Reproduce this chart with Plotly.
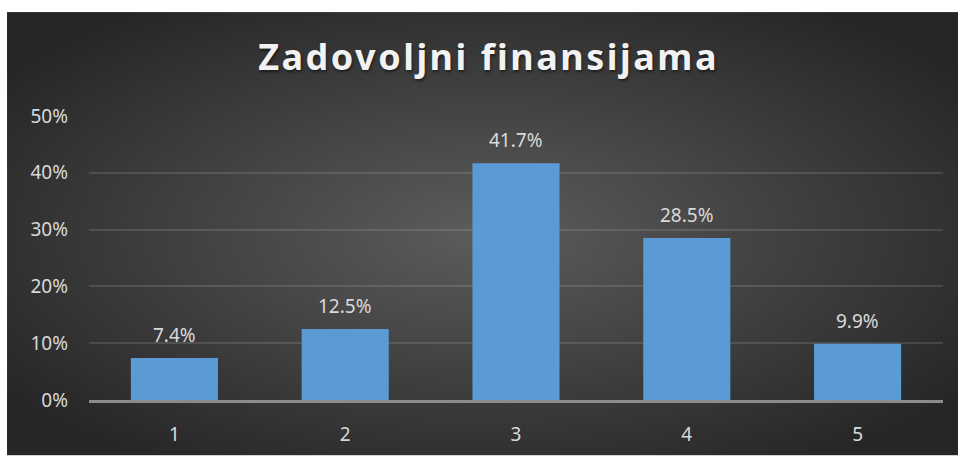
import base64
import plotly.graph_objects as go

categories = ['1', '2', '3', '4', '5']
shares = [7.4, 12.5, 41.7, 28.5, 9.9]
title_text = 'Zadovoljni finansijama'

# radial dark background like the Excel chart style
bg_svg = ('<svg xmlns="http://www.w3.org/2000/svg" width="951" height="448">'
          '<defs><radialGradient id="g" cx="50%" cy="50%" r="62%">'
          '<stop offset="0" stop-color="#5c5c5c"/>'
          '<stop offset="1" stop-color="#262626"/>'
          '</radialGradient></defs>'
          '<rect width="951" height="448" fill="url(#g)"/></svg>')
bg_src = 'data:image/svg+xml;base64,' + base64.b64encode(bg_svg.encode()).decode()

fig = go.Figure(go.Bar(x=categories, y=shares,
                       marker=dict(color='#5b9bd5', line=dict(width=0))))

for i, v in enumerate(shares):
    fig.add_annotation(x=i, y=v, text=f'{v:.1f}%', showarrow=False,
                       yanchor='bottom', yshift=8,
                       font=dict(size=19, color='#d9d9d9'))

fig.update_layout(
    width=958, height=459,
    margin=dict(l=89, r=15, t=116, b=56),
    paper_bgcolor='white',
    plot_bgcolor='rgba(0,0,0,0)',
    font=dict(family='Noto Sans', color='#d9d9d9', size=19),
    bargap=0.49,
    showlegend=False,
    title=dict(text=f'<span style="letter-spacing:2.5px">{title_text}</span>',
               x=0.51, xanchor='center', y=0.874, yanchor='middle',
               font=dict(size=36, color='#f2f2f2', weight='bold',
                         shadow='1px 2px 3px rgba(0,0,0,0.5)')),
    images=[dict(source=bg_src, xref='paper', yref='paper',
                 x=-0.0960, y=1.3659, sizex=1.1136, sizey=1.561,
                 xanchor='left', yanchor='top', sizing='stretch',
                 layer='below')],
)
fig.update_xaxes(showgrid=False, showline=True, linecolor='#8c8c8c', linewidth=2.5,
                 ticks='', ticklabelstandoff=15, tickfont=dict(size=19, color='#d9d9d9'))
fig.update_yaxes(range=[0, 50], dtick=10, ticksuffix='%', showgrid=True,
                 gridcolor='rgba(255,255,255,0.12)', gridwidth=1.5, zeroline=False,
                 ticks='', ticklabelstandoff=20, tickfont=dict(size=19, color='#d9d9d9'))

fig.write_html('out.html', config={'displayModeBar': False},
               post_script="document.body.style.margin='0';")
